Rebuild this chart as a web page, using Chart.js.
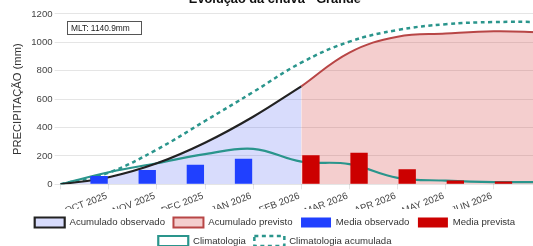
<!DOCTYPE html>
<html>
<head>
<meta charset="utf-8">
<script src="https://cdn.jsdelivr.net/npm/chart.js@4.4.1/dist/chart.umd.min.js"></script>
<style>
  html, body { margin: 0; padding: 0; background: #fff; }
  #wrap { position: relative; width: 533px; height: 246px; overflow: hidden; }
  #chart { position: absolute; left: 0; top: -10px; }
</style>
</head>
<body>
<div id="wrap"><canvas id="chart" width="550" height="266"></canvas></div>
<script>
const months = ['', 'OCT 2025', 'NOV 2025', 'DEC 2025', 'JAN 2026', 'FEB 2026', 'MAR 2026', 'APR 2026', 'MAY 2026', 'JUN 2026', '']
const accObserved = [0, 50, 148, 293, 476, 690, null, null, null, null, null]
const accForecast = [null, null, null, null, null, 690, 928, 1040, 1062, 1078, 1072]
const monthObserved = [null, 58, 101, 138, 180, null, null, null, null, null, null]
const monthForecast = [null, null, null, null, null, 204, 223, 106, 27, 20, null]
const climatology = [0, 85, 148, 212, 250, 160, 142, 45, 26, 16, 16]
const climatologyAcc = [0, 82, 245, 446, 650, 857, 1005, 1087, 1128, 1143, 1144]
const yTicks = [0, 200, 400, 600, 800, 1000, 1200]
const mlt = 1140.9

const FONT = 'Liberation Sans, Arial, Helvetica, sans-serif'
Chart.defaults.font.family = FONT
Chart.defaults.color = '#444'

// little white box with the long term mean, top left of the plot
const mltBox = {
    id: 'mltBox',
    afterDraw(chart) {
        const { ctx, chartArea } = chart
        const x = Math.round(chartArea.left + 6)
        const y = Math.round(chartArea.top + 7)
        ctx.save()
        ctx.fillStyle = '#fff'
        ctx.fillRect(x, y, 75, 14)
        ctx.strokeStyle = '#555'
        ctx.lineWidth = 1
        ctx.strokeRect(x + 0.5, y + 0.5, 74, 13)
        ctx.font = '8.4px ' + FONT
        ctx.fillStyle = '#222'
        ctx.textBaseline = 'middle'
        ctx.fillText('MLT: ' + mlt.toFixed(1) + 'mm', x + 4, y + 7.5)
        ctx.restore()
    }
}

const ctx = document.getElementById('chart').getContext('2d')
const chart = new Chart(ctx, {
    type: 'bar',
    plugins: [mltBox],
    data: {
        labels: months,
        datasets: [{
            type: 'line',
            label: 'Acumulado observado',
            data: accObserved,
            borderColor: '#222',
            backgroundColor: 'rgba(60, 80, 240, 0.2)',
            borderWidth: 2.2,
            fill: 'origin',
            tension: 0.4,
            pointRadius: 0,
            order: 1
        }, {
            type: 'line',
            label: 'Acumulado previsto',
            data: accForecast,
            borderColor: '#B84646',
            backgroundColor: 'rgba(205, 30, 30, 0.22)',
            borderWidth: 2,
            fill: 'origin',
            tension: 0.4,
            pointRadius: 0,
            order: 1
        }, {
            label: 'Media observado',
            data: monthObserved,
            backgroundColor: '#2040FF',
            order: 0
        }, {
            label: 'Media prevista',
            data: monthForecast,
            backgroundColor: '#CC0000',
            order: 0
        }, {
            type: 'line',
            label: 'Climatologia',
            data: climatology,
            borderColor: '#2A958C',
            backgroundColor: '#fff',
            borderWidth: 2.2,
            fill: false,
            tension: 0.4,
            pointRadius: 0,
            order: 1
        }, {
            type: 'line',
            label: 'Climatologia acumulada',
            data: climatologyAcc,
            borderColor: '#2A958C',
            backgroundColor: '#fff',
            borderWidth: 2.5,
            borderDash: [4, 3.5],
            fill: false,
            tension: 0.4,
            pointRadius: 0,
            order: 1
        }]
    },
    options: {
        responsive: false,
        animation: false,
        layout: { padding: { left: 7.8, right: 8 } },
        scales: {
            x: {
                offset: false,
                grid: { offset: false, drawOnChartArea: false, tickLength: 5 },
                border: { display: false },
                ticks: {
                    autoSkip: false,
                    minRotation: 21,
                    maxRotation: 21,
                    padding: 1,
                    labelOffset: -2,
                    font: { size: 9.6 }
                },
                afterFit: function(scale) {
                    scale.height = 24.7
                }
            },
            y: {
                min: yTicks[0],
                max: yTicks[yTicks.length - 1],
                border: { display: false },
                grid: { tickLength: 6 },
                ticks: {
                    stepSize: yTicks[1] - yTicks[0],
                    padding: 2,
                    font: { size: 9.6 },
                    callback: function(value) {
                        return String(value)
                    }
                },
                title: {
                    display: true,
                    text: 'PRECIPITAÇÃO (mm)',
                    color: '#333',
                    font: { size: 11.2 },
                    padding: { top: 3, bottom: 5 }
                }
            }
        },
        plugins: {
            filler: { drawTime: 'beforeDatasetsDraw' },
            title: {
                display: true,
                text: 'Evolução da chuva - Grande',
                color: '#111',
                font: { size: 12.8, weight: 'bold' },
                padding: { top: 2, bottom: 6.6 }
            },
            legend: {
                position: 'bottom',
                labels: {
                    boxWidth: 30,
                    boxHeight: 10,
                    padding: 8.5,
                    color: '#333',
                    font: { size: 9.6 },
                    sort: (a, b) => a.datasetIndex - b.datasetIndex
                }
            },
            tooltip: { enabled: false }
        }
    }
})
</script>
</body>
</html>
